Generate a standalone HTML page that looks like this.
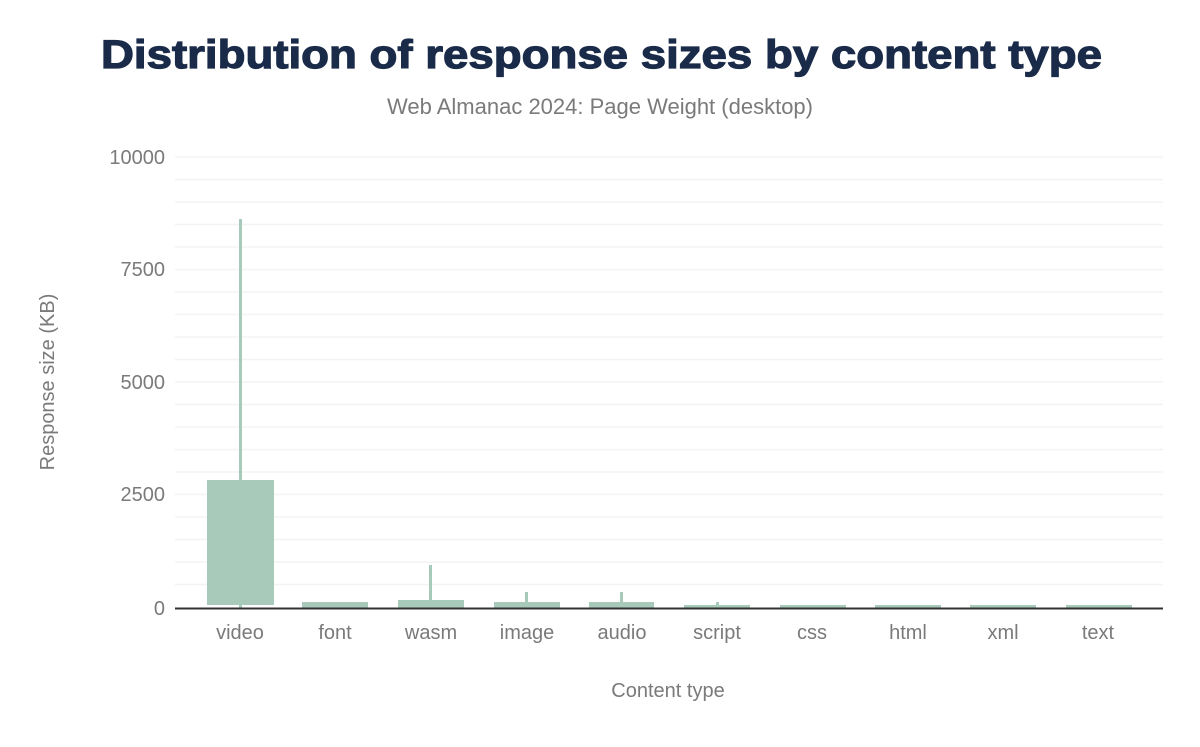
<!DOCTYPE html>
<html><head><style>
body{margin:0;background:#fff;font-family:"Liberation Sans",sans-serif;}
</style></head><body>
<svg width="1200" height="742" xmlns="http://www.w3.org/2000/svg">
<text x="101" y="68" textLength="1001" lengthAdjust="spacingAndGlyphs" font-family="Liberation Sans" font-weight="bold" font-size="40" fill="#1a2b49" stroke="#1a2b49" stroke-width="1.2">Distribution of response sizes by content type</text>
<text x="600" y="114" text-anchor="middle" font-family="Liberation Sans" font-size="22" fill="#7a7a7a">Web Almanac 2024: Page Weight (desktop)</text>
<g stroke="#f3f3f3" stroke-width="1.5">
<line x1="175" x2="1163" y1="157" y2="157"/><line x1="175" x2="1163" y1="179.5" y2="179.5"/><line x1="175" x2="1163" y1="202" y2="202"/><line x1="175" x2="1163" y1="224.5" y2="224.5"/><line x1="175" x2="1163" y1="247" y2="247"/><line x1="175" x2="1163" y1="269.5" y2="269.5"/><line x1="175" x2="1163" y1="292" y2="292"/><line x1="175" x2="1163" y1="314.5" y2="314.5"/><line x1="175" x2="1163" y1="337" y2="337"/><line x1="175" x2="1163" y1="359.5" y2="359.5"/><line x1="175" x2="1163" y1="382" y2="382"/><line x1="175" x2="1163" y1="404.5" y2="404.5"/><line x1="175" x2="1163" y1="427" y2="427"/><line x1="175" x2="1163" y1="449.5" y2="449.5"/><line x1="175" x2="1163" y1="472" y2="472"/><line x1="175" x2="1163" y1="494.5" y2="494.5"/><line x1="175" x2="1163" y1="517" y2="517"/><line x1="175" x2="1163" y1="539.5" y2="539.5"/><line x1="175" x2="1163" y1="562" y2="562"/><line x1="175" x2="1163" y1="584.5" y2="584.5"/>
</g>
<g font-family="Liberation Sans" font-size="20" fill="#7a7a7a" text-anchor="end">
<text x="165" y="164">10000</text><text x="165" y="276">7500</text><text x="165" y="389">5000</text><text x="165" y="501">2500</text><text x="165" y="615">0</text>
</g>
<g fill="#a8cabb">
<rect x="239" y="219" width="3" height="389"/>
<rect x="207" y="480" width="67" height="125"/>
<rect x="302" y="602" width="66" height="6"/>
<rect x="429" y="565" width="3" height="43"/>
<rect x="398" y="600" width="66" height="8"/>
<rect x="525" y="592" width="3" height="16"/>
<rect x="494" y="602" width="66" height="6"/>
<rect x="620" y="592" width="3" height="16"/>
<rect x="589" y="602" width="65" height="6"/>
<rect x="716" y="602" width="3" height="6"/>
<rect x="684" y="605" width="66" height="3"/>
<rect x="780" y="605" width="66" height="3"/>
<rect x="875" y="605" width="66" height="3"/>
<rect x="970" y="605" width="66" height="3"/>
<rect x="1066" y="605" width="66" height="3"/>
</g>
<line x1="175" x2="1163" y1="608.5" y2="608.5" stroke="#333" stroke-width="2"/>
<g font-family="Liberation Sans" font-size="20" fill="#7a7a7a" text-anchor="middle">
<text x="240" y="639">video</text><text x="335" y="639">font</text><text x="431" y="639">wasm</text><text x="527" y="639">image</text><text x="622" y="639">audio</text><text x="717" y="639">script</text><text x="812" y="639">css</text><text x="908" y="639">html</text><text x="1003" y="639">xml</text><text x="1098" y="639">text</text>
<text x="668" y="697">Content type</text>
<text transform="translate(54,382) rotate(-90)">Response size (KB)</text>
</g>
</svg>
</body></html>
